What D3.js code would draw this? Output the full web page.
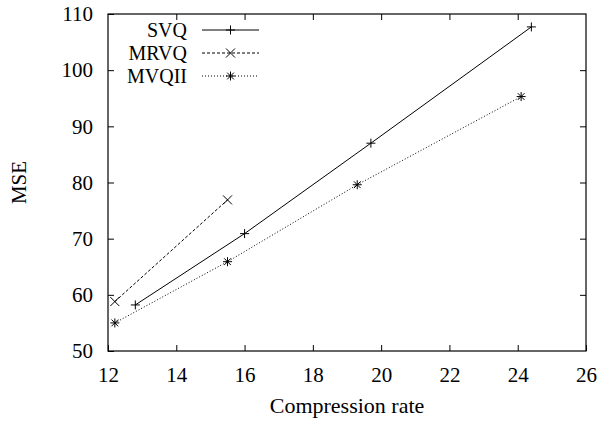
<!DOCTYPE html>
<html>
<head>
<meta charset="utf-8">
<script src="https://cdn.jsdelivr.net/npm/d3@7"></script>
<style>
  body { margin: 0; background: #fff; }
  svg text { font-family: "Liberation Serif", "DejaVu Serif", serif; fill: #000; }
</style>
</head>
<body>
<div id="chart"></div>
<script>
// --- dados ---
const seriesNames = ["SVQ", "MRVQ", "MVQII"];
const svqRate = [12.8, 16.0, 19.7, 24.4];
const svqMse = [58.2, 70.9, 87.0, 107.7];
const mrvqRate = [12.2, 15.5];
const mrvqMse = [58.8, 76.9];
const mvqiiRate = [12.2, 15.5, 19.3, 24.1];
const mvqiiMse = [55.0, 65.9, 79.6, 95.3];
const xTicks = [12, 14, 16, 18, 20, 22, 24, 26];
const yTicks = [50, 60, 70, 80, 90, 100, 110];

const W = 602, H = 423;
const margin = {left: 108, top: 14, right: 16, bottom: 72};
const tickFont = "21px";
const labelFont = "22px";
const legendFont = "20px";

const svg = d3.select("#chart").append("svg")
  .attr("width", W).attr("height", H);

const x = d3.scaleLinear([12, 26], [margin.left, W - margin.right]);
const y = d3.scaleLinear([50, 110], [H - margin.bottom, margin.top]);

const series = [
  {name: seriesNames[0], rate: svqRate, mse: svqMse, dash: null, marker: "plus"},
  {name: seriesNames[1], rate: mrvqRate, mse: mrvqMse, dash: "3,2", marker: "cross"},
  {name: seriesNames[2], rate: mvqiiRate, mse: mvqiiMse, dash: "1,2", marker: "star"}
];

// eixos com ticks para dentro, espelhados
const tickLen = 6;
svg.append("g").attr("transform", `translate(0,${y(50)})`)
  .call(d3.axisBottom(x).tickValues(xTicks).tickSize(-tickLen).tickPadding(16))
  .call(g => g.select(".domain").remove());
svg.append("g").attr("transform", `translate(0,${y(110)})`)
  .call(d3.axisTop(x).tickValues(xTicks.slice(1, -1)).tickSize(-tickLen).tickFormat(""))
  .call(g => g.select(".domain").remove());
svg.append("g").attr("transform", `translate(${x(12)},0)`)
  .call(d3.axisLeft(y).tickValues(yTicks).tickSize(-tickLen).tickPadding(15))
  .call(g => g.select(".domain").remove());
svg.append("g").attr("transform", `translate(${x(26)},0)`)
  .call(d3.axisRight(y).tickValues(yTicks.slice(1, -1)).tickSize(-tickLen).tickFormat(""))
  .call(g => g.select(".domain").remove());

svg.selectAll(".tick text").style("font-size", tickFont).style("font-family", "Liberation Serif");
svg.selectAll(".tick line").attr("stroke", "#000");

svg.append("rect")
  .attr("x", x(12)).attr("y", y(110))
  .attr("width", x(26) - x(12)).attr("height", y(50) - y(110))
  .attr("fill", "none").attr("stroke", "#000").attr("stroke-width", 1.2);

// rótulos
svg.append("text")
  .attr("x", (x(12) + x(26)) / 2).attr("y", 413)
  .attr("text-anchor", "middle").style("font-size", labelFont)
  .text("Compression rate");
svg.append("text")
  .attr("transform", `translate(26,${(y(50) + y(110)) / 2}) rotate(-90)`)
  .attr("text-anchor", "middle").style("font-size", tickFont)
  .text("MSE");

function drawMarker(g, cx, cy, type) {
  const s = 4.5;
  const p = d3.path();
  if (type === "plus" || type === "star") {
    p.moveTo(cx - s, cy); p.lineTo(cx + s, cy);
    p.moveTo(cx, cy - s); p.lineTo(cx, cy + s);
  }
  if (type === "cross" || type === "star") {
    const d = type === "star" ? s * 0.75 : s;
    p.moveTo(cx - d, cy - d); p.lineTo(cx + d, cy + d);
    p.moveTo(cx - d, cy + d); p.lineTo(cx + d, cy - d);
  }
  g.append("path").attr("d", p.toString())
    .attr("stroke", "#000").attr("stroke-width", 1).attr("fill", "none");
}

const line = d3.line().x(d => x(d[0])).y(d => y(d[1]));

series.forEach(s => {
  const pts = s.rate.map((r, i) => [r, s.mse[i]]);
  svg.append("path")
    .attr("d", line(pts))
    .attr("fill", "none").attr("stroke", "#000").attr("stroke-width", 1)
    .attr("stroke-dasharray", s.dash);
  const g = svg.append("g");
  pts.forEach(p => drawMarker(g, x(p[0]), y(p[1]), s.marker));
});

// legenda
const legend = svg.append("g");
series.forEach((s, i) => {
  const ly = 30 + i * 23;
  legend.append("text")
    .attr("x", 187).attr("y", ly + 7)
    .attr("text-anchor", "end").style("font-size", legendFont)
    .text(s.name);
  legend.append("line")
    .attr("x1", 202).attr("x2", 259).attr("y1", ly).attr("y2", ly)
    .attr("stroke", "#000").attr("stroke-width", 1)
    .attr("stroke-dasharray", s.dash);
  drawMarker(legend, 230.5, ly, s.marker);
});
</script>
</body>
</html>
